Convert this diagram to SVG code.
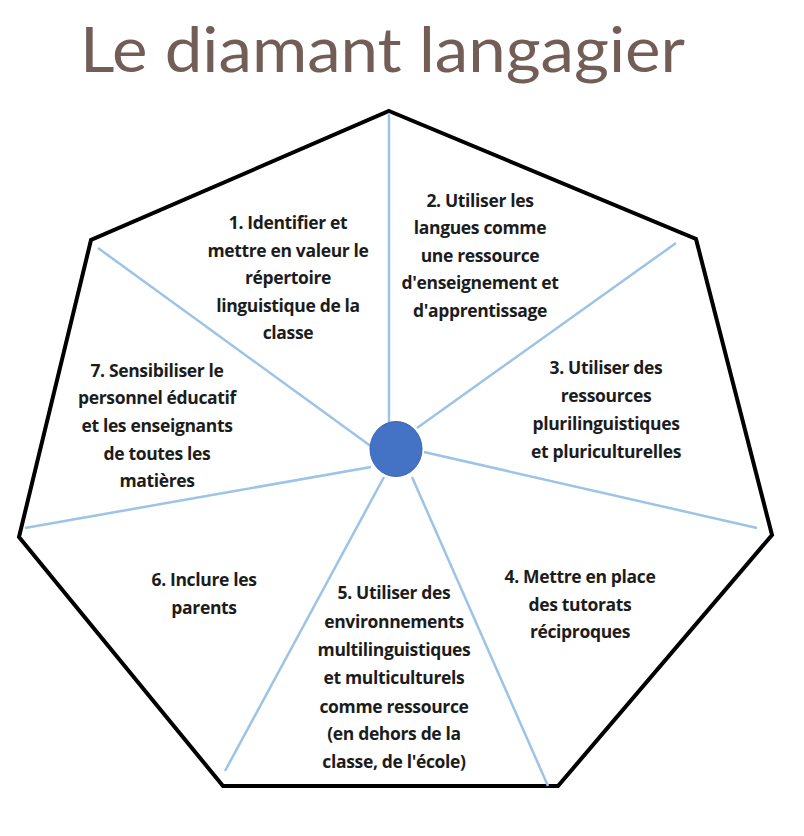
<svg xmlns="http://www.w3.org/2000/svg" width="804" height="836" viewBox="0 0 804 836">
<style>
.title{font-family:Lato,"Open Sans","Liberation Sans",sans-serif;font-size:62px;fill:#735e57;font-weight:400}
.t{font-family:"Open Sans","Liberation Sans",sans-serif;font-size:17.5px;font-weight:700;fill:#1c1c1c;text-anchor:middle;letter-spacing:-0.35px}
.spoke{stroke:#9dc3e6;stroke-width:2.5;fill:none}
</style>
<rect width="804" height="836" fill="#fff"/>
<text class="title" x="80" y="72" textLength="605" lengthAdjust="spacingAndGlyphs">Le diamant langagier</text>
<g id="frame">
<polygon points="389,111 696,239 772,535 558,786 223,786 19,537 91,240" fill="none" stroke="#000" stroke-width="4" stroke-linejoin="miter"/>
</g>
<g id="connectors">
<line class="spoke" x1="389" y1="113" x2="389" y2="425"/>
<line class="spoke" x1="676" y1="243" x2="417" y2="428"/>
<line class="spoke" x1="757" y1="528" x2="424" y2="452"/>
<line class="spoke" x1="98" y1="248" x2="372" y2="447"/>
<line class="spoke" x1="25" y1="528" x2="371" y2="467"/>
<line class="spoke" x1="225" y1="771" x2="384" y2="477"/>
<line class="spoke" x1="548" y1="786" x2="412" y2="477"/>
</g>
<g id="center">
<ellipse cx="396" cy="449" rx="26" ry="27.5" fill="#4472c4" stroke="#3b66b3" stroke-width="1"/>
</g>
<g id="n1">
<text class="t" x="288" y="229">1. Identifier et</text>
<text class="t" x="288" y="257">mettre en valeur le</text>
<text class="t" x="288" y="284">répertoire</text>
<text class="t" x="288" y="312">linguistique de la</text>
<text class="t" x="288" y="339">classe</text>
</g>
<g id="n2">
<text class="t" x="480" y="207">2. Utiliser les</text>
<text class="t" x="480" y="234">langues comme</text>
<text class="t" x="480" y="262">une ressource</text>
<text class="t" x="480" y="289">d'enseignement et</text>
<text class="t" x="480" y="317">d'apprentissage</text>
</g>
<g id="n3">
<text class="t" x="606" y="374">3. Utiliser des</text>
<text class="t" x="606" y="402">ressources</text>
<text class="t" x="606" y="430">plurilinguistiques</text>
<text class="t" x="606" y="458">et pluriculturelles</text>
</g>
<g id="n4">
<text class="t" x="580" y="583">4. Mettre en place</text>
<text class="t" x="580" y="611">des tutorats</text>
<text class="t" x="580" y="638">réciproques</text>
</g>
<g id="n5">
<text class="t" x="394" y="599">5. Utiliser des</text>
<text class="t" x="394" y="628">environnements</text>
<text class="t" x="394" y="656">multilinguistiques</text>
<text class="t" x="394" y="684">et multiculturels</text>
<text class="t" x="394" y="713">comme ressource</text>
<text class="t" x="394" y="740">(en dehors de la</text>
<text class="t" x="394" y="768">classe, de l'école)</text>
</g>
<g id="n6">
<text class="t" x="204" y="586">6. Inclure les</text>
<text class="t" x="204" y="614">parents</text>
</g>
<g id="n7">
<text class="t" x="157" y="377">7. Sensibiliser le</text>
<text class="t" x="157" y="404">personnel éducatif</text>
<text class="t" x="157" y="432">et les enseignants</text>
<text class="t" x="157" y="460">de toutes les</text>
<text class="t" x="157" y="487">matières</text>
</g>
</svg>
